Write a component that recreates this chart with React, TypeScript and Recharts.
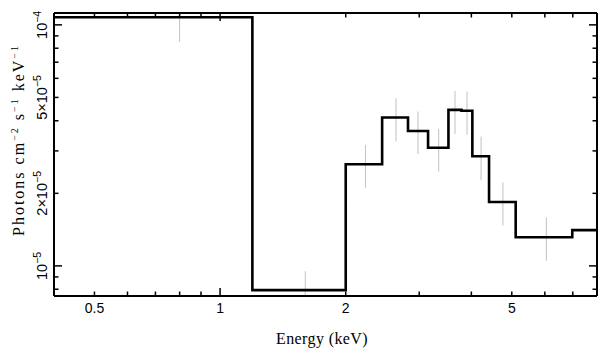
import {
  ComposedChart,
  Line,
  Scatter,
  ErrorBar,
  XAxis,
  YAxis,
} from "recharts";

// folded model: bin edges (keV) and flux per bin (photons cm^-2 s^-1 keV^-1)
const modelEdges = [0.4, 1.195, 2.0, 2.445, 2.82, 3.15, 3.525, 3.787, 4.022, 4.41, 5.108, 6.98, 8.0];
const modelFlux = [1.075e-4, 7.93e-6, 2.64e-5, 4.125e-5, 3.63e-5, 3.09e-5, 4.44e-5, 4.4e-5, 2.85e-5, 1.84e-5, 1.315e-5, 1.407e-5];

// data points with error bars (bars running off the frame are cut at its edge)
const ptEnergy = [0.8, 1.6, 2.23, 2.64, 2.98, 3.34, 3.655, 3.905, 4.22, 4.76, 6.05];
const ptFlux = [1.05e-4, 7.8e-6, 2.65e-5, 4.12e-5, 3.64e-5, 3.08e-5, 4.42e-5, 4.4e-5, 2.86e-5, 1.85e-5, 1.32e-5];
const ptLow = [8.5e-5, 7.5e-6, 2.11e-5, 3.28e-5, 2.91e-5, 2.46e-5, 3.53e-5, 3.5e-5, 2.27e-5, 1.47e-5, 1.05e-5];
const ptHigh = [1.12e-4, 9.5e-6, 3.18e-5, 4.96e-5, 4.37e-5, 3.7e-5, 5.32e-5, 5.29e-5, 3.44e-5, 2.22e-5, 1.59e-5];

const xTicks = [0.5, 0.6, 0.7, 0.8, 0.9, 1, 2, 3, 4, 5, 6, 7];
const xTickLabels = ["0.5", "", "", "", "", "1", "2", "", "", "5", "", ""];
const yTicks = [8e-6, 9e-6, 1e-5, 2e-5, 3e-5, 4e-5, 5e-5, 6e-5, 7e-5, 8e-5, 9e-5, 1e-4];
const yTickBase = ["", "", "10", "2×10", "", "", "5×10", "", "", "", "", "10"];
const yTickExp = ["", "", "−5", "−5", "", "", "−5", "", "", "", "", "−4"];

const X_DOMAIN = [0.4, 8];
const Y_DOMAIN = [7.5e-6, 1.12e-4];
const SANS = "'Liberation Sans', Arial, sans-serif";
const SERIF = "'Liberation Serif', 'Times New Roman', serif";

const modelData = modelEdges.map((e, i) => ({
  x: e,
  y: modelFlux[Math.min(i, modelFlux.length - 1)],
}));

const pointData = ptEnergy.map((e, i) => ({
  x: e,
  y: ptFlux[i],
  err: [ptFlux[i] - ptLow[i], ptHigh[i] - ptFlux[i]],
}));

const isDecade = (v: number) => v === 1 || v === 1e-5 || v === 1e-4;

function BottomTick(props: any) {
  const { x, y, payload } = props;
  const i = xTicks.indexOf(payload.value);
  const len = isDecade(payload.value) ? 8 : 4.5;
  return (
    <g>
      <line x1={x} y1={y} x2={x} y2={y - len} stroke="#000" strokeWidth={1.5} />
      {xTickLabels[i] ? (
        <text x={x} y={y + 17} textAnchor="middle" fontFamily={SANS} fontSize={14} fill="#000">
          {xTickLabels[i]}
        </text>
      ) : null}
    </g>
  );
}

function TopTick(props: any) {
  const { x, y, payload } = props;
  const len = isDecade(payload.value) ? 8 : 4.5;
  return <line x1={x} y1={y} x2={x} y2={y + len} stroke="#000" strokeWidth={1.5} />;
}

function LeftTick(props: any) {
  const { x, y, payload } = props;
  const i = yTicks.indexOf(payload.value);
  const len = isDecade(payload.value) ? 8 : 4.5;
  const tx = x - 7;
  return (
    <g>
      <line x1={x} y1={y} x2={x + len} y2={y} stroke="#000" strokeWidth={1.5} />
      {yTickBase[i] ? (
        <text
          x={tx}
          y={y}
          transform={`rotate(-90 ${tx} ${y})`}
          textAnchor="middle"
          fontFamily={SANS}
          fontSize={14.5}
          fill="#000"
        >
          {yTickBase[i]}
          <tspan dy={-6} fontSize={10.5}>{yTickExp[i]}</tspan>
        </text>
      ) : null}
    </g>
  );
}

function RightTick(props: any) {
  const { x, y, payload } = props;
  const len = isDecade(payload.value) ? 8 : 4.5;
  return <line x1={x} y1={y} x2={x - len} y2={y} stroke="#000" strokeWidth={1.5} />;
}

export default function App() {
  return (
    <div style={{ position: "absolute", left: 0, top: 0, width: 609, height: 358, background: "#fff" }}>
      <ComposedChart width={609} height={358} margin={{ top: 0, right: 0, bottom: 0, left: 0 }}>
        <XAxis
          xAxisId="b"
          dataKey="x"
          type="number"
          scale="log"
          domain={X_DOMAIN}
          allowDataOverflow
          ticks={xTicks}
          interval={0}
          height={62}
          tickSize={0}
          tickMargin={0}
          tickLine={false}
          axisLine={{ stroke: "#000", strokeWidth: 2 }}
          tick={<BottomTick />}
        />
        <XAxis
          xAxisId="t"
          orientation="top"
          dataKey="x"
          type="number"
          scale="log"
          domain={X_DOMAIN}
          allowDataOverflow
          ticks={xTicks}
          interval={0}
          height={13}
          tickSize={0}
          tickMargin={0}
          tickLine={false}
          axisLine={{ stroke: "#000", strokeWidth: 2 }}
          tick={<TopTick />}
        />
        <YAxis
          yAxisId="l"
          type="number"
          scale="log"
          domain={Y_DOMAIN}
          allowDataOverflow
          ticks={yTicks}
          interval={0}
          width={54}
          tickSize={0}
          tickMargin={0}
          tickLine={false}
          axisLine={{ stroke: "#000", strokeWidth: 2 }}
          tick={<LeftTick />}
        />
        <YAxis
          yAxisId="r"
          orientation="right"
          type="number"
          scale="log"
          domain={Y_DOMAIN}
          allowDataOverflow
          ticks={yTicks}
          interval={0}
          width={12}
          tickSize={0}
          tickMargin={0}
          tickLine={false}
          axisLine={{ stroke: "#000", strokeWidth: 2 }}
          tick={<RightTick />}
        />
        <Scatter
          xAxisId="b"
          yAxisId="l"
          data={pointData}
          dataKey="y"
          shape={() => <g />}
          isAnimationActive={false}
        >
          <ErrorBar dataKey="err" direction="y" width={0} stroke="#c2c2c2" strokeWidth={1} isAnimationActive={false} />
        </Scatter>
        <Line
          xAxisId="b"
          yAxisId="l"
          data={modelData}
          dataKey="y"
          type="stepAfter"
          stroke="#000"
          strokeWidth={2.6}
          dot={false}
          activeDot={false}
          isAnimationActive={false}
        />
        <text
          x={24}
          y={140}
          transform="rotate(-90 24 140)"
          textAnchor="middle"
          fontFamily={SERIF}
          fontSize={16}
          letterSpacing={2}
          fill="#000"
        >
          Photons cm<tspan dy={-6} fontSize={10}>−2</tspan>
          <tspan dy={6}> s</tspan>
          <tspan dy={-6} fontSize={10}>−1</tspan>
          <tspan dy={6}> keV</tspan>
          <tspan dy={-6} fontSize={10}>−1</tspan>
        </text>
        <text x={322} y={344} textAnchor="middle" fontFamily={SERIF} fontSize={16} letterSpacing={0.4} fill="#000">
          Energy (keV)
        </text>
      </ComposedChart>
    </div>
  );
}
